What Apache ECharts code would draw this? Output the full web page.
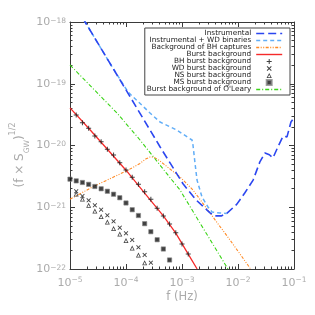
<!DOCTYPE html>
<html><head><meta charset="utf-8">
<script src="https://cdn.jsdelivr.net/npm/echarts@6/dist/echarts.min.js"></script>
<style>html,body{margin:0;padding:0;background:#fff}#c{width:315px;height:315px}</style>
</head><body><div id="c"></div>
<script>
// axis decades (log10 of tick values)
const xDecades = [-5, -4, -3, -2, -1];
const yDecades = [-22, -21, -20, -19, -18];
const minorMultipliers = [2, 3, 4, 5, 6, 7, 8, 9];

// curves (log10 f, log10 h)
const instrumentalLogF = [-5.0, -4.73, -4.0, -3.393, -2.982, -2.75, -2.5, -2.411, -2.3, -2.2, -2.02, -1.88, -1.73, -1.607, -1.518, -1.44, -1.375, -1.286, -1.196, -1.125, -1.054, -1.0];
const instrumentalLogH = [-17.6, -18.0, -19.1, -20.02, -20.62, -20.88, -21.09, -21.14, -21.14, -21.10, -20.95, -20.77, -20.56, -20.26, -20.12, -20.15, -20.20, -20.02, -19.85, -19.86, -19.62, -19.55];

const wdLogF = [-5.0, -4.73, -4.3, -3.964, -3.571, -3.393, -3.095, -2.821, -2.804, -2.768, -2.732, -2.643, -2.536, -2.464, -2.321, -2.2];
const wdLogH = [-17.6, -18.0, -18.65, -19.134, -19.474, -19.619, -19.75, -19.911, -19.992, -20.283, -20.559, -20.834, -20.996, -21.077, -21.093, -21.10];

const captureLogF = [-5.0, -4.589, -3.982, -3.75, -3.65, -3.571, -3.5, -3.393, -3.036, -2.804, -2.5, -2.143, -1.786, -1.77];
const captureLogH = [-20.871, -20.667, -20.408, -20.29, -20.22, -20.185, -20.19, -20.251, -20.51, -20.72, -21.093, -21.53, -21.984, -22.0];

const burstLogF = [-5.0, -4.667, -4.333, -4.0, -3.667, -3.333, -3.111, -2.889, -2.73];
const burstLogH = [-19.39, -19.72, -20.06, -20.40, -20.77, -21.14, -21.42, -21.76, -22.0];

const olearyLogF = [-5.0, -4.161, -3.75, -3.18, -3.036, -2.679, -2.179];
const olearyLogH = [-18.696, -19.474, -19.911, -20.559, -20.72, -21.255, -22.0];

// marker series
const bhLogF = [-4.889, -4.778, -4.667, -4.556, -4.444, -4.333, -4.222, -4.111, -4.0, -3.889, -3.778, -3.667, -3.556, -3.444, -3.333, -3.222, -3.111, -3.0, -2.889];
const bhLogH = [-19.506, -19.631, -19.721, -19.846, -19.938, -20.061, -20.154, -20.279, -20.397, -20.515, -20.628, -20.748, -20.871, -21.017, -21.142, -21.271, -21.412, -21.595, -21.757];

const wdbLogF = [-4.889, -4.778, -4.667, -4.556, -4.444, -4.333, -4.222, -4.111, -4.0, -3.889, -3.778, -3.667, -3.556];
const wdbLogH = [-20.742, -20.818, -20.887, -20.968, -21.040, -21.130, -21.228, -21.331, -21.422, -21.530, -21.649, -21.773, -21.898];

const nsLogF = [-4.889, -4.778, -4.667, -4.556, -4.444, -4.333, -4.222, -4.111, -4.0, -3.889, -3.778, -3.667];
const nsLogH = [-20.785, -20.866, -20.968, -21.061, -21.150, -21.239, -21.344, -21.433, -21.538, -21.660, -21.773, -21.898];

const msLogF = [-5.0, -4.889, -4.778, -4.667, -4.556, -4.444, -4.333, -4.222, -4.111, -4.0, -3.889, -3.778, -3.667, -3.556, -3.444, -3.333, -3.222];
const msLogH = [-20.545, -20.573, -20.599, -20.629, -20.664, -20.701, -20.741, -20.789, -20.846, -20.931, -21.040, -21.134, -21.266, -21.396, -21.526, -21.676, -21.854];

const legendNames = ['Instrumental', 'Instrumental + WD binaries', 'Background of BH captures', 'Burst background', 'BH burst background', 'WD burst background', 'NS burst background', 'MS burst background', "Burst background of O'Leary"];

function pts(lf, lh) { return lf.map((v, i) => [Math.pow(10, v), Math.pow(10, lh[i])]); }

const P = (d) => Math.pow(10, d);
const xMajor = xDecades.map(P), yMajor = yDecades.map(P);
const xMinor = [], yMinor = [];
xDecades.slice(0, -1).forEach(d => minorMultipliers.forEach(m => xMinor.push(m * P(d))));
yDecades.slice(0, -1).forEach(d => minorMultipliers.forEach(m => yMinor.push(m * P(d))));

const AX = '#3a3a3a', LBL = '#ababab', FONT = 'DejaVu Sans';
const xRich = {
  b: { fontSize: 11, lineHeight: 14, color: LBL, fontFamily: FONT },
  s: { fontSize: 7.5, lineHeight: 8, verticalAlign: 'top', color: LBL, fontFamily: FONT }
};
const yRich = {
  b: { fontSize: 11, lineHeight: 10, color: LBL, fontFamily: FONT },
  s: { fontSize: 7.5, lineHeight: 6, verticalAlign: 'top', color: LBL, fontFamily: FONT }
};
const fmt = v => '{b|10}{s|\u2212' + Math.abs(Math.round(Math.log10(v))) + '}';

function xAx(pos, minor, extra) {
  return Object.assign({
    type: 'log', min: xMajor[0], max: xMajor[xMajor.length - 1], position: pos, offset: 0,
    axisLine: { show: !minor, onZero: false, lineStyle: { color: AX, width: 1 } },
    axisTick: minor ? { inside: true, length: 2.5, customValues: xMinor, lineStyle: { color: AX } } : { inside: true, length: 5, customValues: xMajor, lineStyle: { color: AX } },
    axisLabel: { show: false },
    splitLine: { show: false }, minorTick: { show: false }
  }, extra || {});
}
function yAx(pos, minor, extra) {
  return Object.assign({
    type: 'log', min: yMajor[0], max: yMajor[yMajor.length - 1], position: pos, offset: 0,
    axisLine: { show: !minor, onZero: false, lineStyle: { color: AX, width: 1 } },
    axisTick: minor ? { inside: true, length: 2.5, customValues: yMinor, lineStyle: { color: AX } } : { inside: true, length: 5, customValues: yMajor, lineStyle: { color: AX } },
    axisLabel: { show: false },
    splitLine: { show: false }, minorTick: { show: false }
  }, extra || {});
}

const plusPath = 'path://M4,0H6V4H10V6H6V10H4V6H0V4H4Z';
const crossPath = 'path://M0,1.4L1.4,0L5,3.6L8.6,0L10,1.4L6.4,5L10,8.6L8.6,10L5,6.4L1.4,10L0,8.6L3.6,5Z';
const triPath = 'path://M5,0L10,9.5L0,9.5Z M5,3.2L2.4,8L7.6,8Z';
const sqPath = 'path://M0,0H10V10H0Z';

const C = { dark: '#2b46f0', light: '#62aef7', orange: '#ff8a25', red: '#f52a2a', green: '#3ad417' };

const lineSeries = (name, data, color, width, dash, z) => ({
  name, type: 'line', data, showSymbol: false, symbol: 'none', z,
  lineStyle: { color, width, type: dash || 'solid' }, itemStyle: { color }, silent: true
});
const markSeries = (name, data, symbol, size, extra) => Object.assign({
  name, type: 'scatter', data, symbol, symbolSize: size, z: 5,
  itemStyle: { color: '#111' }, silent: true
}, extra || {});

const option = {
  animation: false,
  backgroundColor: '#fff',
  grid: { left: 70, right: 21, top: 22, bottom: 46, outerBoundsMode: 'none' },
  xAxis: [
    xAx('bottom', false, {
      axisLabel: { show: true, margin: 7, formatter: fmt, rich: xRich, customValues: xMajor, showMinLabel: true, showMaxLabel: true, hideOverlap: false },
      name: 'f (Hz)', nameLocation: 'middle', nameGap: 22, nameMoveOverlap: false,
      nameTextStyle: { color: LBL, fontSize: 11.5, fontFamily: FONT }
    }),
    xAx('bottom', true),
    xAx('top', false),
    xAx('top', true)
  ],
  yAxis: [
    yAx('left', false, {
      axisLabel: { show: true, margin: 4, formatter: fmt, rich: yRich, customValues: yMajor, showMinLabel: true, showMaxLabel: true, hideOverlap: false },
      name: '(f \u00d7 S{sub|GW}){sup|1/2}', nameLocation: 'middle', nameGap: 39, nameRotate: 90, nameMoveOverlap: false,
      nameTextStyle: {
        color: LBL, fontSize: 12, fontFamily: FONT, lineHeight: 22, padding: [0, 19, 0, 0],
        rich: {
          sub: { fontSize: 7.5, lineHeight: 11, verticalAlign: 'bottom', color: LBL, fontFamily: FONT },
          sup: { fontSize: 8, lineHeight: 4, verticalAlign: 'top', color: LBL, fontFamily: FONT }
        }
      }
    }),
    yAx('left', true),
    yAx('right', false),
    yAx('right', true)
  ],
  legend: {
    orient: 'vertical', right: 25, top: 28, align: 'right',
    itemWidth: 26, itemHeight: 5, itemGap: 0, padding: [2, 7, 2, 2],
    borderColor: '#444', borderWidth: 1, selectedMode: false, backgroundColor: '#fff',
    textStyle: { fontSize: 7.3, fontFamily: FONT, color: '#222', lineHeight: 6.9 },
    data: [
      { name: legendNames[0], itemStyle: { opacity: 0 }, lineStyle: { width: 1.6 } },
      { name: legendNames[1], itemStyle: { opacity: 0 }, lineStyle: { width: 1.6 } },
      { name: legendNames[2], itemStyle: { opacity: 0 }, lineStyle: { width: 1.4 } },
      { name: legendNames[3], itemStyle: { opacity: 0 }, lineStyle: { width: 1.4 } },
      { name: legendNames[4] },
      { name: legendNames[5] },
      { name: legendNames[6] },
      { name: legendNames[7] },
      { name: legendNames[8], itemStyle: { opacity: 0 }, lineStyle: { width: 1.4 } }
    ]
  },
  series: [
    lineSeries(legendNames[1], pts(wdLogF, wdLogH), C.light, 1.5, [4, 3], 2),
    lineSeries(legendNames[0], pts(instrumentalLogF, instrumentalLogH), C.dark, 1.6, [8, 4], 3),
    lineSeries(legendNames[2], pts(captureLogF, captureLogH), C.orange, 1.1, [3, 1.5, 1, 1.5, 1, 1.5], 2),
    lineSeries(legendNames[3], pts(burstLogF, burstLogH), C.red, 1.3, 'solid', 2),
    markSeries(legendNames[4], pts(bhLogF, bhLogH), plusPath, 5),
    markSeries(legendNames[5], pts(wdbLogF, wdbLogH), crossPath, 4.5),
    markSeries(legendNames[6], pts(nsLogF, nsLogH), triPath, 5),
    markSeries(legendNames[7], pts(msLogF, msLogH), sqPath, 4.3, { itemStyle: { color: '#111', borderColor: '#888', borderWidth: 0.8 } }),
    lineSeries(legendNames[8], pts(olearyLogF, olearyLogH), C.green, 1.1, [4, 2, 1, 2], 2)
  ]
};
echarts.init(document.getElementById('c'), null, { renderer: 'canvas' }).setOption(option);
</script></body></html>
